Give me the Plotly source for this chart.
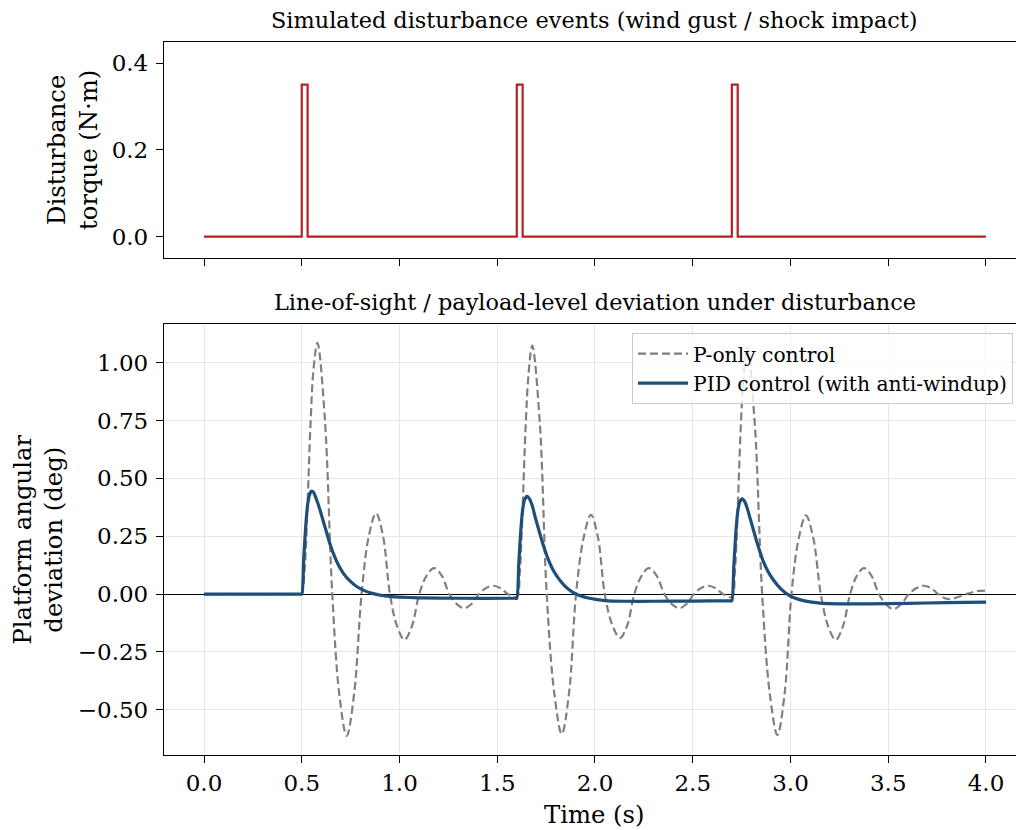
import plotly.graph_objects as go

# ---------------- data ----------------
# disturbance torque (N·m), step-wise pulses
t_dist = [0.0, 0.5, 0.53, 1.6, 1.63, 2.7, 2.73, 4.0]
tau_dist = [0.0, 0.35, 0.0, 0.35, 0.0, 0.35, 0.0, 0.0]

# P-only control deviation (deg)
t_p = [0.000, 0.490, 0.500, 0.515, 0.530, 0.545, 0.560, 0.580, 0.618, 0.656, 0.693, 0.730,
       0.768, 0.806, 0.843, 0.880, 0.916, 0.951, 0.988, 1.025, 1.063, 1.101, 1.139,
       1.177, 1.216, 1.255, 1.293, 1.331, 1.368, 1.406, 1.443, 1.480, 1.518, 1.555,
       1.600, 1.615, 1.630, 1.645, 1.660, 1.679, 1.717, 1.753, 1.792, 1.830, 1.867,
       1.903, 1.941, 1.979, 2.015, 2.050, 2.089, 2.128, 2.165, 2.201, 2.239, 2.276,
       2.315, 2.355, 2.393, 2.431, 2.468, 2.506, 2.543, 2.580, 2.618, 2.655, 2.700,
       2.715, 2.730, 2.745, 2.760, 2.779, 2.817, 2.855, 2.894, 2.933, 2.970, 3.005,
       3.042, 3.079, 3.117, 3.155, 3.193, 3.231, 3.268, 3.305, 3.340, 3.376, 3.414,
       3.452, 3.489, 3.526, 3.565, 3.605, 3.645, 3.683, 3.720, 3.755, 3.790, 3.816,
       3.850, 3.900, 3.950, 4.000]
dev_p = [0.000, 0.000, 0.000, 0.110, 0.400, 0.740, 0.970, 1.086, 0.760, 0.000, -0.440, -0.613,
         -0.430, 0.000, 0.250, 0.350, 0.250, 0.000, -0.140, -0.198, -0.140, 0.000, 0.080,
         0.1125, 0.080, 0.000, -0.043, -0.061, -0.043, 0.000, 0.026, 0.036, 0.025, 0.000,
         -0.012, 0.090, 0.380, 0.720, 0.950, 1.074, 0.750, 0.000, -0.430, -0.605, -0.430,
         0.000, 0.240, 0.343, 0.245, 0.000, -0.135, -0.190, -0.135, 0.000, 0.080, 0.1125,
         0.080, 0.000, -0.043, -0.061, -0.043, 0.000, 0.026, 0.036, 0.025, 0.000, -0.012,
         0.090, 0.370, 0.710, 0.940, 1.065, 0.740, 0.000, -0.430, -0.609, -0.430, 0.000,
         0.240, 0.340, 0.240, 0.000, -0.140, -0.198, -0.140, 0.000, 0.080, 0.1125, 0.080,
         0.000, -0.045, -0.065, -0.045, 0.000, 0.026, 0.036, 0.025, 0.000, -0.018, -0.022,
         -0.015, 0.000, 0.012, 0.015]

# PID control (with anti-windup) deviation (deg)
t_pid = [0.000, 0.490, 0.500, 0.510, 0.520, 0.530, 0.540, 0.550, 0.560, 0.575, 0.593, 0.610,
         0.628, 0.645, 0.661, 0.685, 0.712, 0.745, 0.781, 0.820, 0.866, 0.910, 0.951, 1.000,
         1.100, 1.300, 1.590, 1.600,
         1.610, 1.620, 1.630, 1.640, 1.652, 1.665, 1.680, 1.693, 1.710, 1.727, 1.744,
         1.761, 1.785, 1.812, 1.845, 1.881, 1.920, 1.966, 2.010, 2.051, 2.150, 2.300,
         2.500, 2.690, 2.700,
         2.710, 2.720, 2.730, 2.740, 2.753, 2.766, 2.780, 2.793, 2.810, 2.827, 2.844,
         2.861, 2.885, 2.912, 2.948, 2.989, 3.025, 3.066, 3.110, 3.150, 3.250, 3.400,
         3.600, 3.800, 4.000]
dev_pid = [0.000, 0.000, 0.000, 0.150, 0.290, 0.385, 0.430, 0.445, 0.440, 0.410, 0.365, 0.315,
           0.264, 0.215, 0.177, 0.130, 0.091, 0.058, 0.033, 0.015, 0.002, -0.006, -0.010,
           -0.013, -0.016, -0.018, -0.018, -0.018,
           0.130, 0.270, 0.365, 0.408, 0.423, 0.412, 0.380, 0.336, 0.285, 0.235, 0.190,
           0.150, 0.105, 0.069, 0.036, 0.011, -0.006, -0.017, -0.024, -0.028, -0.031, -0.031,
           -0.030, -0.029, -0.029,
           0.120, 0.260, 0.355, 0.398, 0.412, 0.400, 0.368, 0.329, 0.278, 0.228, 0.182,
           0.141, 0.098, 0.062, 0.025, -0.003, -0.018, -0.028, -0.035, -0.039, -0.042, -0.042,
           -0.040, -0.037, -0.035]

x_ticks = [0.0, 0.5, 1.0, 1.5, 2.0, 2.5, 3.0, 3.5, 4.0]
top_title = "Simulated disturbance events (wind gust / shock impact)"
bottom_title = "Line-of-sight / payload-level deviation under disturbance"

# ---------------- figure ----------------
FONT = "DejaVu Serif"
W, H = 1016, 830
ML, MR, MT, MB = 164, 0, 42, 75
PW, PH = W - ML - MR, H - MT - MB
TICK_SIZE, TITLE_SIZE, LABEL_SIZE, LEGEND_SIZE = 23, 22.4, 24.3, 20.3


def py(p):  # window pixel y -> paper y
    return (H - MB - p) / PH


def px(p):  # window pixel x -> paper x
    return (p - ML) / PW


fig = go.Figure()
fig.add_trace(go.Scatter(x=t_dist, y=tau_dist, mode="lines", line_shape="hv",
                         line=dict(color="#b22222", width=2.2), showlegend=False,
                         xaxis="x", yaxis="y"))
fig.add_trace(go.Scatter(x=t_p, y=dev_p, mode="lines", name="P-only control",
                         line=dict(color="#808080", width=2.2, dash="8px,4px",
                                   shape="spline", smoothing=1.0),
                         xaxis="x2", yaxis="y2"))
fig.add_trace(go.Scatter(x=t_pid, y=dev_pid, mode="lines", name="PID control (with anti-windup)",
                         line=dict(color="#1f4e79", width=3.2, shape="spline", smoothing=0.6),
                         xaxis="x2", yaxis="y2"))

xr = [-0.2046, 4.1535]
axis_common = dict(showline=True, linecolor="black", linewidth=1.3, ticks="outside",
                   ticklen=7, tickwidth=1.3, tickcolor="black",
                   tickfont=dict(family=FONT, size=TICK_SIZE, color="black"))

fig.update_layout(
    width=W, height=H,
    margin=dict(l=ML, r=MR, t=MT, b=MB),
    paper_bgcolor="white", plot_bgcolor="white",
    font=dict(family=FONT, size=22, color="black"),
    xaxis=dict(domain=[0, 1], anchor="y", range=xr, tickvals=x_ticks, showticklabels=False,
               showgrid=False, zeroline=False, mirror=True, **axis_common),
    yaxis=dict(domain=[py(258.3), 1], anchor="x", range=[-0.0498, 0.4484],
               tickvals=[0.0, 0.2, 0.4], tickformat=".1f", showgrid=False, zeroline=False,
               mirror=False, ticklabelstandoff=3, **axis_common),
    xaxis2=dict(domain=[0, 1], anchor="y2", range=xr, tickvals=x_ticks, tickformat=".1f",
                showgrid=True, gridcolor="#e6e6e6", gridwidth=1, zeroline=False,
                mirror=True, matches="x", **axis_common),
    yaxis2=dict(domain=[0, py(324)], anchor="x2", range=[-0.6955, 1.1675],
                tickvals=[-0.5, -0.25, 0.0, 0.25, 0.5, 0.75, 1.0], tickformat=".2f",
                showgrid=True, gridcolor="#e6e6e6", gridwidth=1,
                zeroline=True, zerolinecolor="black", zerolinewidth=1.2,
                mirror=False, ticklabelstandoff=3, **axis_common),
    legend=dict(x=px(1013), y=py(333), xanchor="right", yanchor="top",
                bgcolor="rgba(255,255,255,0.8)", bordercolor="#cccccc", borderwidth=1,
                itemwidth=50,
                font=dict(family=FONT, size=LEGEND_SIZE, color="black")),
    showlegend=True,
)

ann = [
    dict(text=top_title, x=px(594.5), y=py(20), xref="paper", yref="paper",
         xanchor="center", yanchor="middle", showarrow=False,
         font=dict(family=FONT, size=TITLE_SIZE)),
    dict(text=bottom_title, x=px(594.5), y=py(302), xref="paper", yref="paper",
         xanchor="center", yanchor="middle", showarrow=False,
         font=dict(family=FONT, size=TITLE_SIZE)),
    dict(text="Disturbance<br>torque (N·m)", x=px(72), y=py(150), xref="paper", yref="paper",
         xanchor="center", yanchor="middle", showarrow=False, textangle=-90,
         font=dict(family=FONT, size=LABEL_SIZE)),
    dict(text="Platform angular<br>deviation (deg)", x=px(38), y=py(539.5), xref="paper",
         yref="paper", xanchor="center", yanchor="middle", showarrow=False, textangle=-90,
         font=dict(family=FONT, size=LABEL_SIZE)),
    dict(text="Time (s)", x=px(594.5), y=py(814), xref="paper", yref="paper",
         xanchor="center", yanchor="middle", showarrow=False,
         font=dict(family=FONT, size=LABEL_SIZE)),
]
fig.update_layout(annotations=ann)

fig.write_html(
    "out.html",
    config={"displayModeBar": False},
    post_script="document.body.style.margin='0';document.body.style.overflow='hidden';",
)
